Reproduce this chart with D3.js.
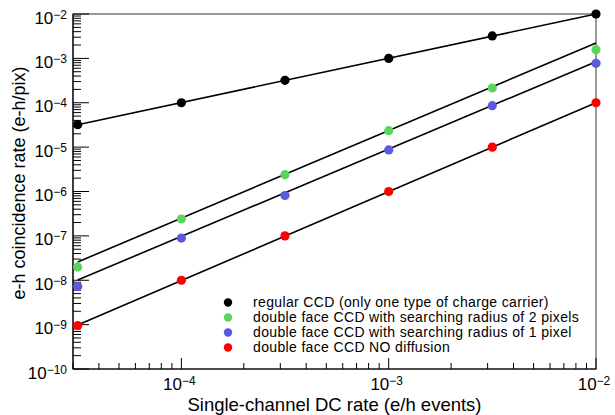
<!DOCTYPE html>
<html>
<head>
<meta charset="utf-8">
<script src="https://cdn.jsdelivr.net/npm/d3@7"></script>
<style>
  body { margin: 0; background: #fff; }
  text { font-family: "Liberation Sans", Arial, sans-serif; }
</style>
</head>
<body>
<div id="chart"></div>
<script>
// data
var dcRate = [3.16e-5, 1e-4, 3.16e-4, 1e-3, 3.16e-3, 1e-2];
var regularCCD = [3.2e-5, 1e-4, 3.2e-4, 1e-3, 3.2e-3, 1e-2];
var radius2 = [2.0e-8, 2.4e-7, 2.4e-6, 2.35e-5, 2.15e-4, 1.57e-3];
var radius1 = [7.2e-9, 8.9e-8, 8.1e-7, 8.65e-6, 8.6e-5, 7.75e-4];
var noDiffusion = [9.5e-10, 1e-8, 1e-7, 1e-6, 1e-5, 1e-4];

// fitted lines: value at first and last rate
var fitX = [3.16e-5, 1e-2];
var fitRegular = [3.2e-5, 1e-2];
var fitRadius2 = [2.58e-8, 2.22e-3];
var fitRadius1 = [1.01e-8, 8.4e-4];
var fitNoDiff = [9.8e-10, 1e-4];

var legendLabels = [
  "regular CCD (only one type of charge carrier)",
  "double face CCD with searching radius of 2 pixels",
  "double face CCD with searching radius of 1 pixel",
  "double face CCD NO diffusion"
];
var xTickExp = [-4, -3, -2];
var yTickExp = [-10, -9, -8, -7, -6, -5, -4, -3, -2];

var series = [
  { name: legendLabels[0], values: regularCCD, fit: fitRegular, color: "#000000" },
  { name: legendLabels[1], values: radius2, fit: fitRadius2, color: "#5bd65b" },
  { name: legendLabels[2], values: radius1, fit: fitRadius1, color: "#5a5ae0" },
  { name: legendLabels[3], values: noDiffusion, fit: fitNoDiff, color: "#ff0000" }
];

var fullWidth = 615, fullHeight = 415;
var margin = {top: 14, right: 19, bottom: 46, left: 73};
var width = fullWidth - margin.left - margin.right;
var height = fullHeight - margin.top - margin.bottom;

var svg = d3.select("#chart").append("svg")
  .attr("width", fullWidth)
  .attr("height", fullHeight);

var g = svg.append("g")
  .attr("transform", "translate(" + margin.left + "," + margin.top + ")");

var x = d3.scaleLog().domain([3e-5, 1e-2]).range([0, width]);
var y = d3.scaleLog().domain([1e-10, 1e-2]).range([height, 0]);

// frame
g.append("rect")
  .attr("width", width).attr("height", height)
  .attr("fill", "none").attr("stroke", "#555").attr("stroke-width", 1.2);

function isMajor(d) {
  var l = Math.log10(d);
  return Math.abs(l - Math.round(l)) < 1e-6;
}

// y ticks (inside)
var yTicks = y.ticks(80).filter(function(d) { return d >= 1e-10 && d <= 1e-2; });
g.selectAll(".ytick").data(yTicks).enter().append("line")
  .attr("x1", 0)
  .attr("x2", function(d) { return isMajor(d) ? 16 : 8; })
  .attr("y1", function(d) { return y(d); })
  .attr("y2", function(d) { return y(d); })
  .attr("stroke", "#000").attr("stroke-width", 1);

// x ticks (inside)
var xTicks = x.ticks(40).filter(function(d) { return d >= 3e-5 && d <= 1e-2; });
g.selectAll(".xtick").data(xTicks).enter().append("line")
  .attr("y1", height)
  .attr("y2", function(d) { return height - (isMajor(d) ? 11 : 6); })
  .attr("x1", function(d) { return x(d); })
  .attr("x2", function(d) { return x(d); })
  .attr("stroke", "#000").attr("stroke-width", 1);

// axis lines
g.append("line").attr("x1", 0).attr("x2", 0).attr("y1", 0).attr("y2", height)
  .attr("stroke", "#000").attr("stroke-width", 1.2);
g.append("line").attr("x1", 0).attr("x2", width).attr("y1", height).attr("y2", height)
  .attr("stroke", "#000").attr("stroke-width", 1.2);

function powLabel(sel) {
  sel.append("tspan").attr("font-size", 17).text("10");
  sel.append("tspan").attr("font-size", 12).attr("dy", -5)
    .text(function(d) { return "\u2212" + Math.abs(d); });
}

// y labels
g.selectAll(".ylab").data(yTickExp).enter().append("text")
  .attr("x", -6)
  .attr("y", function(d) { return y(Math.pow(10, d)) + 9.5; })
  .attr("text-anchor", "end")
  .attr("fill", "#000")
  .call(powLabel);

// x labels
g.selectAll(".xlab").data(xTickExp).enter().append("text")
  .attr("x", function(d) { return x(Math.pow(10, d)) - 2; })
  .attr("y", height + 21)
  .attr("text-anchor", "middle")
  .attr("fill", "#000")
  .call(powLabel);

// axis titles
svg.append("text")
  .attr("x", margin.left + width / 2)
  .attr("y", 411)
  .attr("text-anchor", "middle")
  .attr("font-size", 18.5)
  .text("Single-channel DC rate (e/h events)");

svg.append("text")
  .attr("transform", "translate(25,183) rotate(-90)")
  .attr("text-anchor", "middle")
  .attr("font-size", 18)
  .text("e-h coincidence rate (e-h/pix)");

// fit lines
var line = d3.line()
  .x(function(d) { return x(d[0]); })
  .y(function(d) { return y(d[1]); });

g.selectAll(".fit").data(series).enter().append("path")
  .attr("d", function(s) { return line(fitX.map(function(v, i) { return [v, s.fit[i]]; })); })
  .attr("fill", "none").attr("stroke", "#000").attr("stroke-width", 1.6);

// points
series.forEach(function(s) {
  g.selectAll(null).data(s.values).enter().append("circle")
    .attr("cx", function(d, i) { return x(dcRate[i]); })
    .attr("cy", function(d) { return y(d); })
    .attr("r", 4.6)
    .attr("fill", s.color);
});

// legend
var legend = svg.append("g").attr("transform", "translate(228,307)");
var rows = legend.selectAll(".row").data(series).enter().append("g")
  .attr("transform", function(d, i) { return "translate(0," + (i * 15) + ")"; });
rows.append("circle").attr("cx", 0).attr("cy", -4.5).attr("r", 4.2)
  .attr("fill", function(d) { return d.color; });
rows.append("text").attr("x", 25).attr("y", 0)
  .attr("font-size", 14)
  .attr("letter-spacing", 0.35)
  .text(function(d) { return d.name; });
</script>
</body>
</html>
